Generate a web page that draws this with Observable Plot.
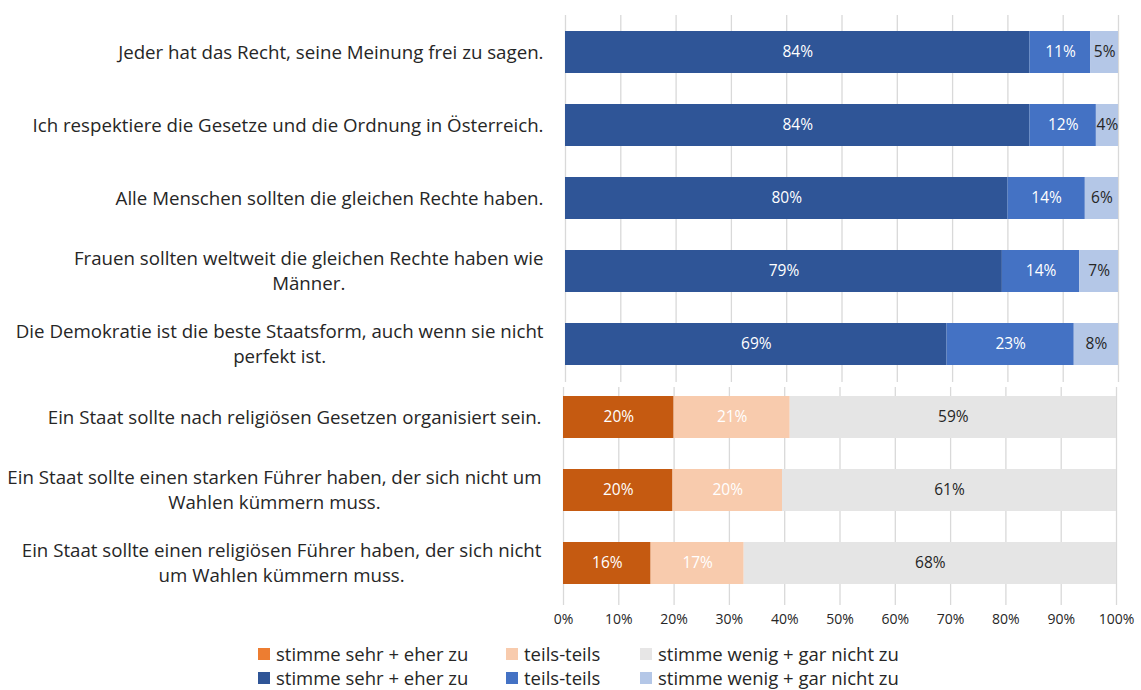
<!DOCTYPE html>
<html><head><meta charset="utf-8">
<script src="https://cdn.jsdelivr.net/npm/d3@7"></script>
<script src="https://cdn.jsdelivr.net/npm/@observablehq/plot@0.6"></script>
<style>
body{margin:0;background:#fff;font-family:"Open Sans",sans-serif;}
#wrap{position:relative;width:1141px;height:690px;overflow:hidden;background:#fff;}
#top,#bot{position:absolute;left:0;}
#top{top:0}
#bot{top:385px}
.legrow{position:absolute;left:0;height:20px;font-size:18.5px;color:#262626;}
.item{position:absolute;top:0;display:flex;align-items:center;height:20px;line-height:20px;white-space:nowrap;}
.sw{width:12px;height:12px;margin-right:6px;display:inline-block;}
</style>
</head><body>
<div id="wrap"><div id="top"></div><div id="bot"></div><div id="leg"></div></div>
<script>
const questionsTop = [
  "Jeder hat das Recht, seine Meinung frei zu sagen.",
  "Ich respektiere die Gesetze und die Ordnung in Österreich.",
  "Alle Menschen sollten die gleichen Rechte haben.",
  "Frauen sollten weltweit die gleichen Rechte haben wie\nMänner.",
  "Die Demokratie ist die beste Staatsform, auch wenn sie nicht\nperfekt ist."
];
const questionsBottom = [
  "Ein Staat sollte nach religiösen Gesetzen organisiert sein.",
  "Ein Staat sollte einen starken Führer haben, der sich nicht um\nWahlen kümmern muss.",
  "Ein Staat sollte einen religiösen Führer haben, der sich nicht\num Wahlen kümmern muss."
];
const categories = ["stimme sehr + eher zu", "teils-teils", "stimme wenig + gar nicht zu"];
const agreeTop = [84, 84, 80, 79, 69];
const partlyTop = [11, 12, 14, 14, 23];
const disagreeTop = [5, 4, 6, 7, 8];
const agreeBottom = [20, 20, 16];
const partlyBottom = [21, 20, 17];
const disagreeBottom = [59, 61, 68];
const xTicks = [0, 10, 20, 30, 40, 50, 60, 70, 80, 90, 100];
const blueColors = ["#2F5597", "#4472C4", "#B4C7E7"];
const orangeColors = ["#C55A11", "#F8CBAD", "#E5E5E5"];
const legendOrange = ["#ED7D31", "#F8CBAD", "#E7E6E6"];
const labelColors = ["#ffffff", "#ffffff", "#262626"];

function rows(qs, a, b, c) {
  const out = [];
  qs.forEach((q, i) => {
    [a[i], b[i], c[i]].forEach((v, k) => out.push({q, cat: categories[k], value: v}));
  });
  return out;
}
const dataTop = rows(questionsTop, agreeTop, partlyTop, disagreeTop);
const dataBottom = rows(questionsBottom, agreeBottom, partlyBottom, disagreeBottom);

const FONT = "Open Sans";
const labelSize = 18.7;
const ctx = document.createElement("canvas").getContext("2d");
ctx.font = `${labelSize}px "${FONT}"`;
function labelMarks(qs) {
  return qs.map(q => {
    const w = d3.max(q.split("\n"), l => ctx.measureText(l).width);
    return Plot.text([q], {
      y: d => d, text: d => d, frameAnchor: "left", textAnchor: "middle",
      dx: -22 - w / 2, dy: -2, fontSize: labelSize, lineHeight: 1.34, fill: "#262626"
    });
  });
}

function chart(data, qs, colors, opts) {
  return Plot.plot({
    width: 1141,
    height: opts.height,
    marginLeft: opts.left,
    marginRight: 1141 - opts.right,
    marginTop: opts.top,
    marginBottom: opts.bottom,
    style: {fontFamily: FONT, background: "transparent", overflow: "visible"},
    x: {domain: [0, 1], axis: null},
    y: {domain: qs, axis: null, ...opts.yScale},
    color: {domain: categories, range: colors},
    marks: [
      Plot.gridX(xTicks.map(t => t / 100), {stroke: "#d9d9d9", strokeOpacity: 1, strokeWidth: 1.3}),
      Plot.barX(data, Plot.stackX({x: "value", y: "q", fill: "cat", offset: "normalize", order: categories})),
      Plot.text(data, Plot.stackX({x: "value", y: "q", z: "cat", offset: "normalize", order: categories,
        text: d => d.value + "%", fill: d => labelColors[categories.indexOf(d.cat)], fontSize: 15.5})),
      ...labelMarks(qs),
      ...(opts.axis ? [Plot.axisX(xTicks.map(t => t / 100), {tickSize: 0, tickPadding: 9, label: null,
        tickFormat: d => Math.round(d * 100) + "%", fontSize: 14, fill: "#262626"})] : [])
    ]
  });
}

document.getElementById("top").append(chart(dataTop, questionsTop, blueColors,
  {height: 385, top: 15, bottom: 3, left: 565, right: 1118, axis: false,
   yScale: {paddingInner: 0.42, paddingOuter: 0.21}}));
document.getElementById("bot").append(chart(dataBottom, questionsBottom, orangeColors,
  {height: 250, top: 2, bottom: 30, left: 563, right: 1116, axis: true,
   yScale: {paddingInner: 0.42, paddingOuter: 0.19, align: 0.32}}));

// legend
const leg = document.getElementById("leg");
const legendRows = [{top: 644, colors: legendOrange}, {top: 668, colors: blueColors}];
const itemLeft = [258, 506, 640];
legendRows.forEach(r => {
  const row = document.createElement("div");
  row.className = "legrow";
  row.style.top = r.top + "px";
  categories.forEach((c, k) => {
    const it = document.createElement("div");
    it.className = "item";
    it.style.left = itemLeft[k] + "px";
    const sw = document.createElement("span");
    sw.className = "sw";
    sw.style.background = r.colors[k];
    it.append(sw, document.createTextNode(c));
    row.append(it);
  });
  leg.append(row);
});
</script>
</body></html>
